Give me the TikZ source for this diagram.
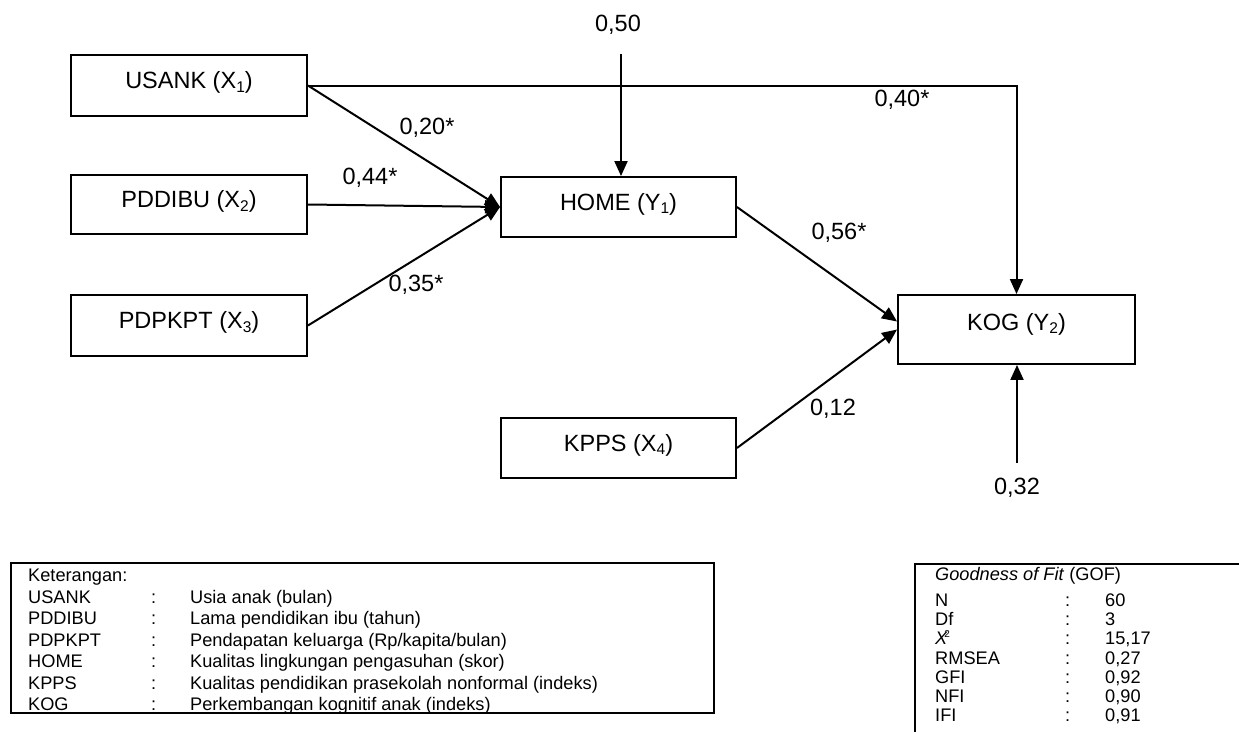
\documentclass[tikz,border=0pt]{standalone}
\usepackage{fontspec}
\setmainfont{Liberation Sans}
\usetikzlibrary{arrows.meta,calc}
\newcommand{\sbs}[1]{\raisebox{-3.5pt}{\fontsize{15.5}{16}\selectfont #1}}
\begin{document}
\begin{tikzpicture}[x=1pt,y=-1pt,
  box/.style={draw, line width=1.9pt, inner sep=0pt, font=\fontsize{23.5}{28}\selectfont,
    text height=16.8pt, text depth=10pt},
  lbl/.style={inner sep=0pt, font=\fontsize{23.5}{28}\selectfont},
  arr/.style={line width=2pt, -{Triangle[length=15pt,width=13pt]}},
  frame/.style={draw, line width=1.8pt, inner sep=0pt},
  lt/.style={inner sep=0pt, anchor=base west, font=\fontsize{18.2}{21}\selectfont},
]
\useasboundingbox (0,0) rectangle (1239,731);

% boxes
\node[box, minimum width=236pt, minimum height=61pt] (usank) at (189,85.5) {USANK (X\sbs{1})};
\node[box, minimum width=236pt, minimum height=59pt] (pddibu) at (189,204.5) {PDDIBU (X\sbs{2})};
\node[box, minimum width=236pt, minimum height=61pt] (pdpkpt) at (189,325.5) {PDPKPT (X\sbs{3})};
\node[box, minimum width=235pt, minimum height=60pt] (home) at (618.5,207) {HOME (Y\sbs{1})};
\node[box, minimum width=235pt, minimum height=60pt] (kpps) at (618.5,448) {KPPS (X\sbs{4})};
\node[box, minimum width=237pt, minimum height=69pt, text depth=15pt] (kog) at (1016.5,329.5) {KOG (Y\sbs{2})};

% error terms
\coordinate (e1) at (621,54);
\coordinate (e2) at (1017,463);

% connectors
\draw[arr] (usank.east) -- (home.west);
\draw[arr] (pddibu.east) -- (home.west);
\draw[arr] (pdpkpt.east) -- (home.west);
\draw[arr] (usank.east) -- (usank.east -| kog.north) -- (kog.north);
\draw[arr] (home.east) -- ($(kog.west)+(0,-8)$);
\draw[arr] (kpps.east) -- (kog.west);
\draw[arr] (e1) -- (e1 |- home.north);
\draw[arr] (e2) -- (e2 |- kog.south);

% path labels
\node[lbl] (l050) at (618,25) {0,50};
\node[lbl] (l020) at (427,128) {0,20*};
\node[lbl] (l044) at (370,178) {0,44*};
\node[lbl] (l035) at (416,285) {0,35*};
\node[lbl] (l040) at (902,100) {0,40*};
\node[lbl] (l056) at (839,233) {0,56*};
\node[lbl] (l012) at (833,409) {0,12};
\node[lbl] (l032) at (1017,488) {0,32};

% legend
\node[frame, minimum width=703pt, minimum height=150pt] (leg) at (362.5,638) {};
\node[lt] (k0) at (28,581) {Keterangan:};
\node[lt] (k1) at (28,603) {USANK};
\node[lt] (k2) at (28,624.5) {PDDIBU};
\node[lt] (k3) at (28,646) {PDPKPT};
\node[lt] (k4) at (28,667.5) {HOME};
\node[lt] (k5) at (28,689) {KPPS};
\node[lt] (k6) at (28,710.5) {KOG};
\node[lt] (c1) at (151,603) {:};
\node[lt] (c2) at (151,624.5) {:};
\node[lt] (c3) at (151,646) {:};
\node[lt] (c4) at (151,667.5) {:};
\node[lt] (c5) at (151,689) {:};
\node[lt] (c6) at (151,710.5) {:};
\node[lt] (d1) at (190,603) {Usia anak (bulan)};
\node[lt] (d2) at (190,624.5) {Lama pendidikan ibu (tahun)};
\node[lt] (d3) at (190,646) {Pendapatan keluarga (Rp/kapita/bulan)};
\node[lt] (d4) at (190,667.5) {Kualitas lingkungan pengasuhan (skor)};
\node[lt] (d5) at (190,689) {Kualitas pendidikan prasekolah nonformal (indeks)};
\node[lt] (d6) at (190,710.5) {Perkembangan kognitif anak (indeks)};

% goodness of fit
\begin{scope}
\clip (0,0) rectangle (1239,731);
\node[frame, minimum width=340pt, minimum height=190pt] (gof) at (1085,659) {};
\node[lt] (g0) at (935,580) {\textit{Goodness of Fit} (GOF)};
\node[lt] (g1) at (935,606) {N};
\node[lt] (g2) at (935,625) {Df};
\node[lt] (g3) at (935,644) {\textit{X}\kern-3.5pt\raisebox{6.5pt}{\fontsize{10}{10}\selectfont 2}};
\node[lt] (g4) at (935,664) {RMSEA};
\node[lt] (g5) at (935,683) {GFI};
\node[lt] (g6) at (935,702) {NFI};
\node[lt] (g7) at (935,721) {IFI};
\node[lt] (h1) at (1065,606) {:};
\node[lt] (h2) at (1065,625) {:};
\node[lt] (h3) at (1065,644) {:};
\node[lt] (h4) at (1065,664) {:};
\node[lt] (h5) at (1065,683) {:};
\node[lt] (h6) at (1065,702) {:};
\node[lt] (h7) at (1065,721) {:};
\node[lt] (v1) at (1105,606) {60};
\node[lt] (v2) at (1105,625) {3};
\node[lt] (v3) at (1105,644) {15,17};
\node[lt] (v4) at (1105,664) {0,27};
\node[lt] (v5) at (1105,683) {0,92};
\node[lt] (v6) at (1105,702) {0,90};
\node[lt] (v7) at (1105,721) {0,91};
\end{scope}
\end{tikzpicture}
\end{document}
